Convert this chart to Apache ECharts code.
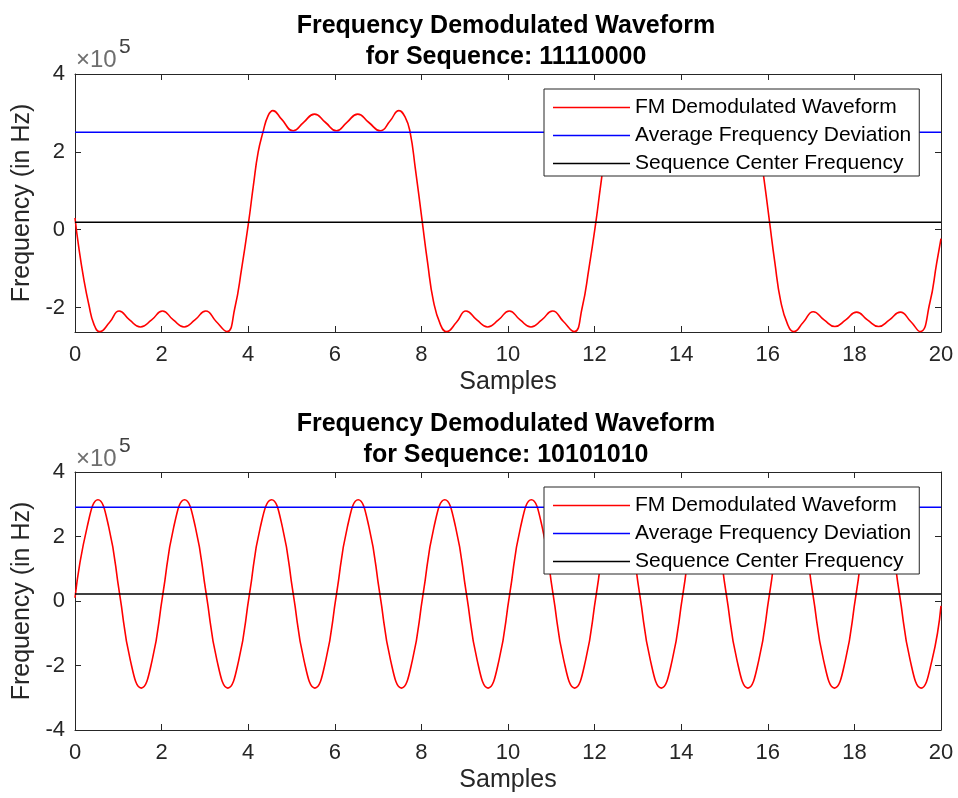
<!DOCTYPE html>
<html><head><meta charset="utf-8">
<script src="https://cdn.jsdelivr.net/npm/echarts@6/dist/echarts.min.js"></script>
<style>html,body{margin:0;padding:0;background:#fff}#c{width:958px;height:798px}</style>
</head><body><div id="c"></div>
<script>
const FONT = '"Liberation Sans", Arial, Helvetica, sans-serif';

// ---- data (frequency values in units of 1e5 Hz) ----
const titleLine1 = 'Frequency Demodulated Waveform';
const sequences = ['11110000', '10101010'];
const seriesNames = ['FM Demodulated Waveform', 'Average Frequency Deviation', 'Sequence Center Frequency'];
const sampleRange = [0, 20];
const yRangeTop = [-2.63, 4];
const yRangeBottom = [-4, 4];
const yTicksTop = [-2, 0, 2, 4];
const yTicksBottom = [-4, -2, 0, 2, 4];
const avgDeviation = [2.5, 2.91];
const centerFreq = [0.19, 0.22];

const waveTop = [
  [0,0.30],[0.08,-0.40],[0.2,-1.25],[0.32,-1.93],[0.44,-2.44],[0.57,-2.62],[0.8,-2.38],[1.02,-2.09],
  [1.26,-2.32],[1.51,-2.50],[1.77,-2.32],[2.02,-2.09],[2.27,-2.32],[2.52,-2.50],[2.77,-2.32],[3.02,-2.09],
  [3.26,-2.36],[3.51,-2.62],[3.69,-2.02],[3.85,-0.99],[4.01,0.20],[4.12,1.14],[4.23,1.99],[4.34,2.50],
  [4.46,2.93],[4.57,3.06],[4.77,2.84],[5.04,2.54],[5.28,2.76],[5.53,2.97],[5.78,2.76],[6.04,2.54],
  [6.28,2.76],[6.53,2.97],[6.78,2.76],[7.05,2.54],[7.28,2.80],[7.48,3.06],[7.63,2.88],[7.74,2.50],
  [7.86,1.57],[8.02,0.20],[8.14,-0.82],[8.28,-1.85],[8.44,-2.44],[8.58,-2.62],[8.81,-2.38],[9.03,-2.09],
  [9.28,-2.32],[9.53,-2.50],[9.78,-2.32],[10.03,-2.09],[10.28,-2.32],[10.53,-2.50],[10.78,-2.32],[11.03,-2.09],
  [11.28,-2.36],[11.53,-2.62],[11.71,-2.02],[11.87,-0.99],[12.03,0.20],[12.14,1.14],[12.25,1.99],[12.36,2.50],
  [12.48,2.93],[12.59,3.06],[12.79,2.84],[13.05,2.54],[13.29,2.76],[13.54,2.97],[13.79,2.76],[14.05,2.54],
  [14.29,2.76],[14.54,2.97],[14.79,2.76],[15.06,2.54],[15.3,2.80],[15.49,3.06],[15.65,2.88],[15.76,2.50],
  [15.88,1.57],[16.04,0.20],[16.16,-0.82],[16.3,-1.85],[16.46,-2.44],[16.6,-2.62],[16.82,-2.38],[17.05,-2.11],
  [17.3,-2.32],[17.55,-2.49],[17.8,-2.32],[18.05,-2.12],[18.3,-2.32],[18.56,-2.49],[18.81,-2.32],[19.06,-2.12],
  [19.3,-2.36],[19.52,-2.62],[19.74,-1.89],[19.9,-0.86],[20,-0.23]
];

const waveBottom = [
  [0,0.10],[0.28,2.29],[0.53,3.14],[0.78,2.29],[1.03,0.22],[1.28,-1.85],[1.53,-2.70],[1.78,-1.85],
  [2.03,0.22],[2.28,2.29],[2.53,3.14],[2.78,2.29],[3.03,0.22],[3.28,-1.85],[3.53,-2.70],[3.78,-1.85],
  [4.03,0.22],[4.28,2.29],[4.54,3.14],[4.79,2.29],[5.04,0.22],[5.29,-1.85],[5.54,-2.70],[5.79,-1.85],
  [6.04,0.22],[6.29,2.29],[6.54,3.14],[6.79,2.29],[7.04,0.22],[7.29,-1.85],[7.54,-2.70],[7.79,-1.85],
  [8.04,0.22],[8.29,2.29],[8.54,3.14],[8.79,2.29],[9.04,0.22],[9.29,-1.85],[9.54,-2.70],[9.79,-1.85],
  [10.04,0.22],[10.29,2.29],[10.54,3.14],[10.79,2.29],[11.04,0.22],[11.29,-1.85],[11.54,-2.70],[11.79,-1.85],
  [12.04,0.22],[12.29,2.29],[12.54,3.14],[12.79,2.29],[13.04,0.22],[13.29,-1.85],[13.54,-2.70],[13.79,-1.85],
  [14.04,0.22],[14.29,2.29],[14.54,3.14],[14.79,2.29],[15.04,0.22],[15.29,-1.85],[15.54,-2.70],[15.79,-1.85],
  [16.04,0.22],[16.29,2.29],[16.54,3.14],[16.79,2.29],[17.04,0.22],[17.29,-1.85],[17.54,-2.70],[17.79,-1.85],
  [18.04,0.22],[18.29,2.29],[18.54,3.14],[18.79,2.29],[19.04,0.22],[19.29,-1.85],[19.54,-2.70],[19.79,-1.85],
  [20,-0.15]
];

// ---- layout ----
const panels = [
  { top: 74, wave: waveTop, yRange: yRangeTop, yTicks: yTicksTop, titleY: 11, expY: 60 },
  { top: 472, wave: waveBottom, yRange: yRangeBottom, yTicks: yTicksBottom, titleY: 409, expY: 459 }
];
const AX = '#262626';

const grid = [], xAxis = [], yAxis = [], series = [], legend = [], graphic = [];
panels.forEach((p, i) => {
  grid.push({ left: 75, top: p.top, width: 866, height: 258 });
  const line = { show: true, onZero: false, lineStyle: { color: AX, width: 1 } };
  const tick = { show: true, inside: true, length: 6, lineStyle: { color: AX, width: 1 } };
  xAxis.push({
    type: 'value', gridIndex: i, min: sampleRange[0], max: sampleRange[1], interval: 2,
    axisLine: line, axisTick: tick, splitLine: { show: false },
    axisLabel: { fontSize: 22, color: AX, margin: 12, fontFamily: FONT },
    name: 'Samples', nameLocation: 'middle', nameGap: 38,
    nameTextStyle: { fontSize: 25, color: AX, fontFamily: FONT }
  });
  xAxis.push({
    type: 'value', gridIndex: i, position: 'top', min: sampleRange[0], max: sampleRange[1], interval: 2,
    axisLine: line, axisTick: tick, splitLine: { show: false }, axisLabel: { show: false }
  });
  yAxis.push({
    type: 'value', gridIndex: i, min: p.yRange[0], max: p.yRange[1],
    axisLine: line, axisTick: Object.assign({}, tick, { customValues: p.yTicks }), splitLine: { show: false },
    axisLabel: { fontSize: 22, color: AX, margin: 10, fontFamily: FONT, customValues: p.yTicks },
    name: 'Frequency (in Hz)', nameLocation: 'middle', nameGap: 31,
    nameTextStyle: { fontSize: 25, color: AX, fontFamily: FONT }
  });
  yAxis.push({
    type: 'value', gridIndex: i, position: 'right', min: p.yRange[0], max: p.yRange[1],
    axisLine: line, axisTick: Object.assign({}, tick, { customValues: p.yTicks }), splitLine: { show: false },
    axisLabel: { show: false, customValues: p.yTicks }
  });
  const xi = 2 * i, yi = 2 * i;
  series.push({
    name: seriesNames[0], type: 'line', xAxisIndex: xi, yAxisIndex: yi, data: p.wave,
    smooth: 0.5, symbol: 'none', lineStyle: { color: '#ff0000', width: 1.6 }, itemStyle: { color: '#ff0000' }
  });
  series.push({
    name: seriesNames[1], type: 'line', xAxisIndex: xi, yAxisIndex: yi,
    data: [[sampleRange[0], avgDeviation[i]], [sampleRange[1], avgDeviation[i]]],
    symbol: 'none', lineStyle: { color: '#0000ff', width: 1.5 }, itemStyle: { color: '#0000ff' }
  });
  series.push({
    name: seriesNames[2], type: 'line', xAxisIndex: xi, yAxisIndex: yi,
    data: [[sampleRange[0], centerFreq[i]], [sampleRange[1], centerFreq[i]]],
    symbol: 'none', lineStyle: { color: '#000000', width: 1.5 }, itemStyle: { color: '#000000' }
  });
  legend.push({
    data: seriesNames, orient: 'vertical', left: 544, top: p.top + 15,
    icon: 'rect', itemWidth: 77, itemHeight: 1.6, itemGap: 7, padding: [8, 8, 2, 9],
    borderColor: AX, borderWidth: 1, backgroundColor: '#ffffff', selectedMode: false,
    textStyle: { fontSize: 21, lineHeight: 20, color: '#000', fontFamily: FONT }
  });
  graphic.push({
    type: 'text', z: 100,
    style: { text: titleLine1 + '\nfor Sequence: ' + sequences[i], x: 506, y: p.titleY,
      align: 'center', verticalAlign: 'top', font: 'bold 25px ' + FONT, lineHeight: 31, fill: '#000' }
  });
  graphic.push({
    type: 'text', z: 100,
    style: { text: '×10', x: 76, y: p.expY, align: 'left', verticalAlign: 'middle', font: '24px ' + FONT, fill: '#6e6e6e' }
  });
  graphic.push({
    type: 'text', z: 100,
    style: { text: '5', x: 119, y: p.expY - 13, align: 'left', verticalAlign: 'middle', font: '21px ' + FONT, fill: '#404040' }
  });
});

const chart = echarts.init(document.getElementById('c'), null, { renderer: 'canvas' });
chart.setOption({
  animation: false, backgroundColor: '#ffffff',
  grid, xAxis, yAxis, series, legend, graphic
});
</script></body></html>
